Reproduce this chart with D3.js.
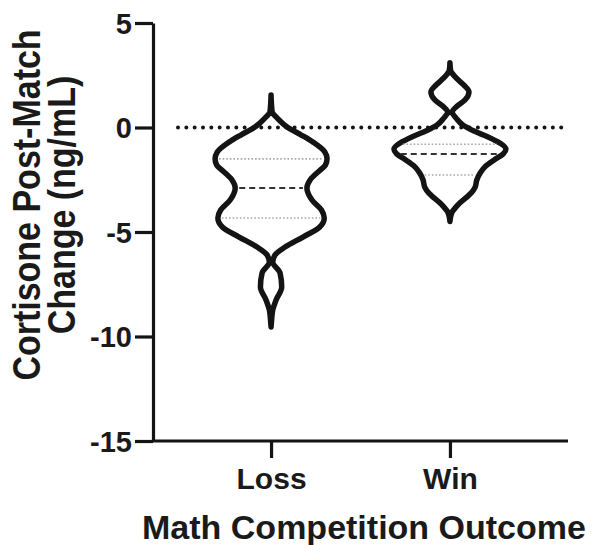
<!DOCTYPE html>
<html>
<head>
<meta charset="utf-8">
<script src="https://cdn.jsdelivr.net/npm/d3@7"></script>
<style>
  html, body { margin: 0; padding: 0; background: #fff; }
  svg { display: block; }
  text { font-family: "Liberation Sans", Arial, Helvetica, sans-serif; font-weight: bold; fill: #1a1a1a; }
</style>
</head>
<body>
<svg id="chart" width="596" height="545"></svg>
<script>
// ---- data ----
const categories = ["Loss", "Win"];
const yTicks = [5, 0, -5, -10, -15];

// violin outline profiles: value (ng/mL) and relative density (0..1)
const lossValues  = [1.55, 1.0, 0.74, 0.45, 0, -0.36, -0.7, -1.17, -1.5, -1.8, -2.03, -2.5, -2.9, -3.47, -3.95, -4.33, -4.76, -5.24, -5.72, -6.1, -6.44, -6.96, -7.63, -8.25, -8.73, -9.2, -9.55];
const lossDensity = [0, 0.01, 0.02, 0.11, 0.30, 0.54, 0.75, 0.96, 1.0, 0.97, 0.88, 0.70, 0.64, 0.73, 0.90, 0.95, 0.87, 0.57, 0.25, 0.07, 0.03, 0.16, 0.19, 0.09, 0.03, 0.01, 0];
const winValues   = [3.1, 2.75, 2.37, 2.03, 1.7, 1.32, 1.03, 0.74, 0.45, 0.12, -0.17, -0.45, -0.74, -1.03, -1.27, -1.55, -1.84, -2.18, -2.51, -2.85, -3.13, -3.33, -3.6, -3.8, -4.04, -4.3, -4.5];
const winDensity  = [0, 0.01, 0.11, 0.25, 0.34, 0.27, 0.13, 0.04, 0.11, 0.23, 0.43, 0.68, 0.89, 1.0, 0.95, 0.79, 0.64, 0.54, 0.48, 0.45, 0.38, 0.30, 0.18, 0.11, 0.04, 0.01, 0];

// quartiles: [Q3, median, Q1]
const lossQuartiles = [-1.5, -2.9, -4.33];
const winQuartiles  = [-0.8, -1.27, -2.27];

const yTitleLines = ["Cortisone Post-Match", "Change (ng/mL)"];
const xTitle = "Math Competition Outcome";

// ---- layout ----
const svg = d3.select("#chart");
const plotLeft = 153, plotRight = 568, plotTop = 23, plotBottom = 441;
const ink = "#141414";

const y = d3.scaleLinear().domain([-15, 5]).range([plotBottom, plotTop]);
const x = d3.scalePoint().domain(categories).range([plotLeft, plotRight]).padding(0.66);
const w = d3.scaleLinear().domain([0, 1]).range([0, 56]);

const groups = [
  { name: "Loss", values: lossValues, density: lossDensity, q: lossQuartiles },
  { name: "Win",  values: winValues,  density: winDensity,  q: winQuartiles }
];

// violins
groups.forEach(g => {
  const cx = x(g.name);
  const pts = g.values.map((v, i) => ({ v, d: g.density[i] }));
  const area = d3.area()
    .y(p => y(p.v))
    .x0(p => cx - w(p.d))
    .x1(p => cx + w(p.d))
    .curve(d3.curveMonotoneY);
  svg.append("path")
    .attr("d", area(pts))
    .attr("fill", "#fff")
    .attr("stroke", ink)
    .attr("stroke-width", 5.5)
    .attr("stroke-linejoin", "round");

  const halfAt = v => {
    for (let i = 0; i < g.values.length - 1; i++) {
      const a = g.values[i], b = g.values[i + 1];
      if (v <= a && v >= b) {
        const t = (a - v) / (a - b);
        return w(g.density[i] + t * (g.density[i + 1] - g.density[i]));
      }
    }
    return 0;
  };

  g.q.forEach((qv, i) => {
    const hw = Math.max(0, halfAt(qv) - 4);
    const isMedian = i === 1;
    svg.append("line")
      .attr("x1", cx - hw).attr("x2", cx + hw)
      .attr("y1", y(qv)).attr("y2", y(qv))
      .attr("stroke", isMedian ? "#333" : "#a8a8a8")
      .attr("stroke-width", isMedian ? 2 : 1.6)
      .attr("stroke-dasharray", isMedian ? "6 4" : "1.6 2");
  });
});

// zero reference line (dotted)
svg.append("line")
  .attr("x1", plotLeft + 25).attr("x2", 565)
  .attr("y1", y(0)).attr("y2", y(0))
  .attr("stroke", ink)
  .attr("stroke-width", 4)
  .attr("stroke-linecap", "round")
  .attr("stroke-dasharray", "0 8.33");

// y axis
const yAxis = svg.append("g")
  .attr("transform", `translate(${plotLeft},0)`)
  .call(d3.axisLeft(y).tickValues(yTicks).tickFormat(d => String(d))
        .tickSize(18).tickSizeOuter(0).tickPadding(3));
yAxis.select(".domain").attr("stroke", ink).attr("stroke-width", 3.2);
yAxis.selectAll(".tick line").attr("stroke", ink).attr("stroke-width", 3.2);
yAxis.selectAll(".tick text")
  .style("font-family", '"Liberation Sans", Arial, sans-serif')
  .style("font-weight", "bold")
  .style("font-size", "29px")
  .attr("fill", "#1a1a1a")
  .attr("dy", "0.36em");

// x axis
const xAxis = svg.append("g")
  .attr("transform", `translate(0,${plotBottom})`)
  .call(d3.axisBottom(x).tickSize(17).tickSizeOuter(0).tickPadding(10));
xAxis.select(".domain").attr("stroke", ink).attr("stroke-width", 3.2)
  .attr("d", `M${plotLeft},0H${plotRight}`);
xAxis.selectAll(".tick line").attr("stroke", ink).attr("stroke-width", 3.2);
xAxis.selectAll(".tick text")
  .style("font-family", '"Liberation Sans", Arial, sans-serif')
  .style("font-weight", "bold")
  .style("font-size", "30px")
  .attr("fill", "#1a1a1a");

// y title (slightly widened glyphs as in the reference)
const yt = svg.append("text")
  .attr("transform", "translate(0,205) rotate(-90) scale(1,1.15)")
  .attr("text-anchor", "middle")
  .style("font-size", "34px");
yTitleLines.forEach((t, i) => {
  yt.append("tspan").attr("x", 0).attr("y", 34.8 + i * 30.4).text(t);
});

// x title
svg.append("text")
  .attr("x", 364).attr("y", 539)
  .attr("text-anchor", "middle")
  .style("font-size", "34px")
  .text(xTitle);
</script>
</body>
</html>
